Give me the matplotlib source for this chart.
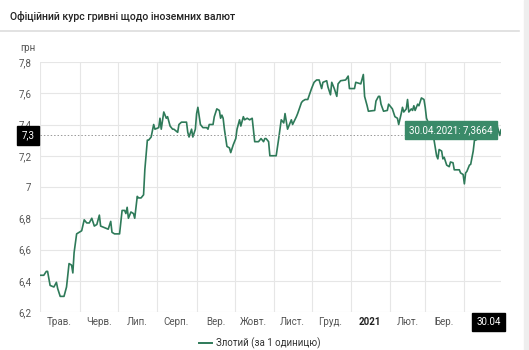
import matplotlib
matplotlib.use("Agg")
import matplotlib.pyplot as plt
import matplotlib.dates as mdates
import numpy as np
import pandas as pd

plt.rcParams['font.family'] = ['Roboto', 'DejaVu Sans']

title = "Офіційний курс гривні щодо іноземних валют"
unit_label = "грн"
series_name = "Злотий (за 1 одиницю)"

dates = [
    "2020-04-30", "2020-05-03", "2020-05-05", "2020-05-06", "2020-05-08", "2020-05-11", "2020-05-13",
    "2020-05-14", "2020-05-16", "2020-05-19", "2020-05-21", "2020-05-23", "2020-05-25", "2020-05-26",
    "2020-05-27", "2020-05-29", "2020-05-31", "2020-06-02", "2020-06-04", "2020-06-06", "2020-06-08",
    "2020-06-10", "2020-06-12", "2020-06-14", "2020-06-16", "2020-06-17", "2020-06-20", "2020-06-23",
    "2020-06-25", "2020-06-26", "2020-06-28", "2020-07-02", "2020-07-04", "2020-07-06", "2020-07-07",
    "2020-07-08", "2020-07-09", "2020-07-11", "2020-07-13", "2020-07-14", "2020-07-16", "2020-07-17",
    "2020-07-19", "2020-07-21", "2020-07-22", "2020-07-24", "2020-07-25", "2020-07-27", "2020-07-29",
    "2020-07-30", "2020-08-02", "2020-08-03", "2020-08-04", "2020-08-06", "2020-08-08", "2020-08-09",
    "2020-08-11", "2020-08-13", "2020-08-14", "2020-08-17", "2020-08-18", "2020-08-20", "2020-08-24",
    "2020-08-25", "2020-08-26", "2020-08-28", "2020-08-29", "2020-08-31", "2020-09-01", "2020-09-02",
    "2020-09-04", "2020-09-06", "2020-09-09", "2020-09-10", "2020-09-11", "2020-09-14", "2020-09-15",
    "2020-09-17", "2020-09-19", "2020-09-20", "2020-09-21", "2020-09-22", "2020-09-23", "2020-09-25",
    "2020-09-27", "2020-09-28", "2020-09-30", "2020-10-02", "2020-10-03", "2020-10-05", "2020-10-06",
    "2020-10-08", "2020-10-09", "2020-10-11", "2020-10-13", "2020-10-15", "2020-10-17", "2020-10-20",
    "2020-10-22", "2020-10-24", "2020-10-25", "2020-10-26", "2020-10-28", "2020-10-29", "2020-11-03",
    "2020-11-05", "2020-11-06", "2020-11-07", "2020-11-09", "2020-11-10", "2020-11-12", "2020-11-13",
    "2020-11-15", "2020-11-16", "2020-11-19", "2020-11-20", "2020-11-23", "2020-11-24", "2020-11-26",
    "2020-11-28", "2020-12-01", "2020-12-03", "2020-12-05", "2020-12-07", "2020-12-09", "2020-12-10",
    "2020-12-13", "2020-12-14", "2020-12-16", "2020-12-17", "2020-12-19", "2020-12-21", "2020-12-22",
    "2020-12-24", "2020-12-28", "2020-12-30", "2020-12-31", "2021-01-04", "2021-01-05", "2021-01-09",
    "2021-01-11", "2021-01-12", "2021-01-14", "2021-01-15", "2021-01-20", "2021-01-21", "2021-01-23",
    "2021-01-24", "2021-01-25", "2021-01-27", "2021-01-30", "2021-01-31", "2021-02-02", "2021-02-03",
    "2021-02-05", "2021-02-07", "2021-02-08", "2021-02-10", "2021-02-11", "2021-02-12", "2021-02-14",
    "2021-02-15", "2021-02-16", "2021-02-18", "2021-02-19", "2021-02-20", "2021-02-21", "2021-02-23",
    "2021-02-24", "2021-02-26", "2021-02-28", "2021-03-01", "2021-03-02", "2021-03-05", "2021-03-08",
    "2021-03-10", "2021-03-11", "2021-03-12", "2021-03-14", "2021-03-15", "2021-03-16", "2021-03-18",
    "2021-03-20", "2021-03-21", "2021-03-23", "2021-03-24", "2021-03-26", "2021-03-28", "2021-03-29",
    "2021-03-31", "2021-04-01", "2021-04-02", "2021-04-03", "2021-04-05", "2021-04-06", "2021-04-08",
    "2021-04-09", "2021-04-10", "2021-04-12", "2021-04-14", "2021-04-18", "2021-04-22", "2021-04-26",
    "2021-04-27", "2021-04-29", "2021-04-30",
]

values = [
    6.435, 6.435, 6.46, 6.46, 6.37, 6.36, 6.39,
    6.35, 6.30, 6.30, 6.36, 6.51, 6.50, 6.45,
    6.58, 6.70, 6.71, 6.72, 6.79, 6.77, 6.77,
    6.80, 6.75, 6.76, 6.82, 6.75, 6.74, 6.73,
    6.78, 6.71, 6.70, 6.70, 6.85, 6.85, 6.83,
    6.87, 6.80, 6.84, 6.83, 6.80, 6.94, 6.93,
    6.93, 6.95, 7.11, 7.30, 7.30, 7.32, 7.40,
    7.37, 7.38, 7.44, 7.37, 7.48, 7.44, 7.45,
    7.39, 7.37, 7.37, 7.35, 7.40, 7.415, 7.415,
    7.35, 7.32, 7.37, 7.32, 7.37, 7.47, 7.51,
    7.40, 7.38, 7.38, 7.37, 7.40, 7.40, 7.45,
    7.50, 7.49, 7.44, 7.46, 7.44, 7.37, 7.26,
    7.25, 7.22, 7.27, 7.31, 7.37, 7.43, 7.39,
    7.45, 7.43, 7.44, 7.43, 7.44, 7.29, 7.29,
    7.31, 7.29, 7.31, 7.31, 7.29, 7.20, 7.20,
    7.31, 7.37, 7.43, 7.41, 7.47, 7.37, 7.39,
    7.43, 7.40, 7.45, 7.47, 7.54, 7.55, 7.56,
    7.56, 7.63, 7.67, 7.685, 7.685, 7.63, 7.67,
    7.68, 7.64, 7.59, 7.67, 7.63, 7.58, 7.66,
    7.68, 7.685, 7.71, 7.63, 7.63, 7.67, 7.66,
    7.72, 7.58, 7.52, 7.485, 7.49, 7.55, 7.58,
    7.58, 7.53, 7.485, 7.49, 7.53, 7.51, 7.50,
    7.45, 7.44, 7.40, 7.47, 7.51, 7.48, 7.50,
    7.56, 7.48, 7.50, 7.49, 7.52, 7.49, 7.53,
    7.52, 7.57, 7.56, 7.51, 7.44, 7.38, 7.30,
    7.20, 7.18, 7.24, 7.23, 7.18, 7.19, 7.14,
    7.13, 7.16, 7.155, 7.11, 7.11, 7.11, 7.09,
    7.08, 7.02, 7.09, 7.10, 7.14, 7.145, 7.23,
    7.30, 7.30, 7.31, 7.31, 7.33, 7.35, 7.40,
    7.39, 7.33, 7.3664,
]

y_ticks = [6.2, 6.4, 6.6, 6.8, 7.0, 7.2, 7.4, 7.6, 7.8]
y_tick_labels = ["6,2", "6,4", "6,6", "6,8", "7", "7,2", "7,4", "7,6", "7,8"]
month_starts = ["2020-06-01", "2020-07-01", "2020-08-01", "2020-09-01", "2020-10-01", "2020-11-01",
                "2020-12-01", "2021-01-01", "2021-02-01", "2021-03-01", "2021-04-01"]
x_label_pos = ["2020-05-15", "2020-06-16", "2020-07-16", "2020-08-16", "2020-09-16", "2020-10-16",
               "2020-11-16", "2020-12-16", "2021-01-16", "2021-02-15", "2021-03-16"]
x_labels = ["Трав.", "Черв.", "Лип.", "Серп.", "Вер.", "Жовт.", "Лист.", "Груд.", "2021", "Лют.", "Бер."]
x_start, x_end = "2020-04-30", "2021-04-30"
crosshair_value = 7.33
crosshair_label = "7,3"
end_label = "30.04"
tooltip_text = "30.04.2021: 7,3664"

line_color = "#2e7a59"
tip_color = "#3a8a69"

W, H = 529, 350
fig = plt.figure(figsize=(W / 100, H / 100), dpi=100)
fig.patch.set_facecolor("white")

# header
fig.text(10 / W, 1 - 16 / H, title, fontsize=7.6, fontweight="medium", color="#222222",
         ha="left", va="center")
fig.add_artist(plt.Line2D([0, 519 / W], [1 - 31 / H, 1 - 31 / H], color="#dddddd", lw=1.2))
fig.add_artist(plt.Rectangle((524 / W, 0), 5 / W, 1, color="#eeeeee", transform=fig.transFigure))

ax = fig.add_axes([40 / W, 38 / H, 461 / W, 250 / H])
d = pd.to_datetime(dates)
ax.plot(d, values, color=line_color, lw=1.2, solid_joinstyle="round")

ax.set_xlim(pd.Timestamp(x_start), pd.Timestamp(x_end))
ax.set_ylim(6.2, 7.8)
ax.set_yticks(y_ticks)
ax.set_yticklabels(y_tick_labels)
ax.set_xticks(pd.to_datetime(month_starts))
ax.set_xticklabels([])
ax.tick_params(axis="both", length=0, labelsize=7, colors="#555555")
ax.tick_params(axis="y", pad=6)
ax.grid(True, color="#e6e6e6", lw=0.8)
ax.set_axisbelow(True)
for s in ax.spines.values():
    s.set_visible(False)
ax.axvline(pd.Timestamp(x_start), color="#e6e6e6", lw=0.8, zorder=0)

xt = ax.get_xaxis_transform()
for p, lab in zip(x_label_pos, x_labels):
    bold = lab == "2021"
    ax.text(pd.Timestamp(p), -0.04, lab, transform=xt, ha="center", va="center", fontsize=7,
            color="#222222" if bold else "#555555", fontweight="bold" if bold else "normal")

ax.text(-0.01, 1.055, unit_label, transform=ax.transAxes, ha="right", va="center", fontsize=7,
        color="#555555")

# crosshair
ax.axhline(crosshair_value, color="#999999", lw=0.7, ls=(0, (1.5, 2)))
ax.axvline(pd.Timestamp(x_end), color="#999999", lw=0.7, ls=(0, (1.5, 2)))
yt = ax.get_yaxis_transform()
ax.text(-0.012, crosshair_value, crosshair_label, transform=yt, ha="right", va="center", fontsize=7,
        color="white", bbox=dict(boxstyle="square,pad=0.45", fc="black", ec="black"))
ax.plot([-0.009], [crosshair_value], marker=">", ms=3, color="black", transform=yt, clip_on=False)
ax.text(1.0, -0.04, end_label, transform=ax.transAxes, ha="right", va="center", fontsize=7,
        color="white", bbox=dict(boxstyle="square,pad=0.45", fc="black", ec="black"))

# tooltip
ax.annotate(tooltip_text, xy=(pd.Timestamp(dates[-1]), values[-1]), xytext=(-8, 0),
            textcoords="offset pixels", ha="right", va="center", fontsize=7, color="white",
            bbox=dict(boxstyle="square,pad=0.4", fc=tip_color, ec=tip_color))

# legend
fig.add_artist(plt.Line2D([199 / W, 212 / W], [1 - 343 / H, 1 - 343 / H], color=line_color, lw=1.4))
fig.text(216 / W, 1 - 343 / H, series_name, fontsize=7, color="#333333", ha="left", va="center")

fig.savefig("out.png", dpi=100, facecolor="white")
